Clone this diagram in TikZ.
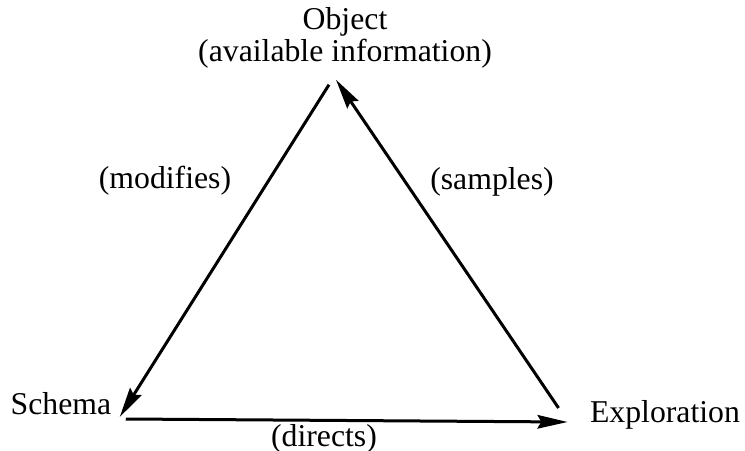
\documentclass[tikz,border=0pt]{standalone}
\usepackage{fontspec}
\setmainfont{Liberation Serif}
\usetikzlibrary{arrows.meta}

\begin{document}
\begin{tikzpicture}[x=0.4pt,y=-0.4pt, every node/.style={font=\fontsize{12.7}{9.2}\selectfont, inner sep=0pt},
    link/.style={line width=1.2pt, -{Stealth[length=12pt,width=5.4pt,inset=1.5pt]}}]
    \useasboundingbox (0,0) rectangle (745,451);
    \node[align=center] (object) at (345,38) {Object\\(available information)};
    \node[anchor=base] (schema) at (61,415) {Schema};
    \node[anchor=base] (exploration) at (665,422) {Exploration};
    \node[anchor=base] (modifies) at (165,189) {(modifies)};
    \node[anchor=base] (samples) at (492,190) {(samples)};
    \node[anchor=base] (directs) at (324,446) {(directs)};
    \draw[link] ([xshift=-6.4pt,yshift=-6.4pt]object.south) -- ([xshift=3.2pt,yshift=-0.8pt]schema.base east);
    \draw[link] ([xshift=5.6pt,yshift=-1.6pt]schema.base east) -- ([xshift=-8.8pt]exploration.base west);
    \draw[link] ([xshift=-12.4pt,yshift=5.6pt]exploration.base west) -- ([xshift=-3.6pt,yshift=-4.4pt]object.south);
\end{tikzpicture}
\end{document}
